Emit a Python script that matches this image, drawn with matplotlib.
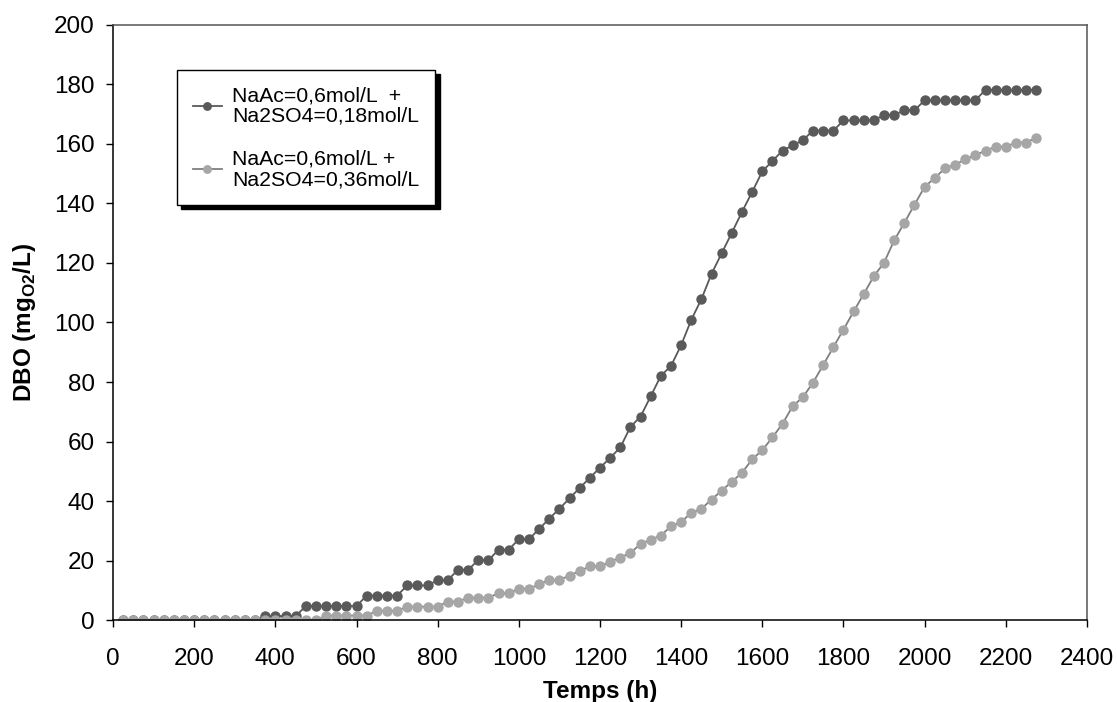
import matplotlib as mpl
import matplotlib.pyplot as plt
mpl.use('agg')

# time (h)
temps = [25, 50, 75, 100, 125, 150, 175, 200, 225, 250,
         275, 300, 325, 350, 375, 400, 425, 450, 475, 500,
         525, 550, 575, 600, 625, 650, 675, 700, 725, 750,
         775, 800, 825, 850, 875, 900, 925, 950, 975, 1000,
         1025, 1050, 1075, 1100, 1125, 1150, 1175, 1200, 1225, 1250,
         1275, 1300, 1325, 1350, 1375, 1400, 1425, 1450, 1475, 1500,
         1525, 1550, 1575, 1600, 1625, 1650, 1675, 1700, 1725, 1750,
         1775, 1800, 1825, 1850, 1875, 1900, 1925, 1950, 1975, 2000,
         2025, 2050, 2075, 2100, 2125, 2150, 2175, 2200, 2225, 2250,
         2275]

# DBO, NaAc 0,6 + Na2SO4 0,18
dbo_018 = [0, 0, 0, 0, 0, 0, 0, 0, 0, 0,
           0, 0, 0, 0, 1.3, 1.3, 1.3, 1.3, 4.7, 4.7,
           4.7, 4.7, 4.7, 4.7, 8.2, 8.2, 8.2, 8.2, 11.6, 11.6,
           11.6, 13.4, 13.4, 16.9, 16.9, 20.1, 20.1, 23.6, 23.6, 27.2,
           27.2, 30.6, 34.1, 37.4, 40.9, 44.4, 47.8, 51.2, 54.5, 58.0,
           64.9, 68.4, 75.2, 82.1, 85.4, 92.4, 100.9, 107.9, 116.4, 123.3,
           130.2, 137.2, 143.9, 150.8, 154.3, 157.8, 159.5, 161.3, 164.5, 164.5,
           164.5, 167.9, 167.9, 167.9, 167.9, 169.8, 169.8, 171.3, 171.3, 174.7,
           174.7, 174.7, 174.7, 174.7, 174.7, 178.2, 178.2, 178.2, 178.2, 178.2,
           178.2]

# DBO, NaAc 0,6 + Na2SO4 0,36
dbo_036 = [0, 0, 0, 0, 0, 0, 0, 0, 0, 0,
           0, 0, 0, 0, 0, 0, 0, 0, 0, 0,
           1.5, 1.5, 1.5, 1.5, 1.5, 3.1, 3.1, 3.1, 4.5, 4.5,
           4.5, 4.5, 6.2, 6.2, 7.5, 7.5, 7.5, 9.0, 9.0, 10.5,
           10.5, 12.0, 13.5, 13.5, 14.9, 16.5, 18.0, 18.0, 19.6, 21.0,
           22.6, 25.5, 27.0, 28.4, 31.5, 33.0, 36.0, 37.4, 40.5, 43.5,
           46.5, 49.5, 54.0, 57.1, 61.4, 66.0, 71.9, 74.9, 79.8, 85.7,
           91.7, 97.6, 103.7, 109.6, 115.6, 120.1, 127.6, 133.5, 139.6, 145.6,
           148.6, 151.8, 153.1, 154.8, 156.3, 157.7, 159.1, 159.1, 160.5, 160.5,
           162.1]

labels = ['NaAc=0,6mol/L  +\nNa2SO4=0,18mol/L',
          'NaAc=0,6mol/L +\nNa2SO4=0,36mol/L']

plt.rcParams['font.family'] = ['Liberation Sans', 'DejaVu Sans']
plt.rcParams['mathtext.fontset'] = 'custom'
plt.rcParams['mathtext.rm'] = 'Liberation Sans'
plt.rcParams['mathtext.bf'] = 'Liberation Sans:bold'

dpi = 100
fig = plt.figure(dpi=dpi, figsize=(1117 / dpi, 702 / dpi))
ax = fig.add_axes([0.1012, 0.1168, 0.8719, 0.8476])

ax.plot(temps, dbo_018, color='#595959', lw=1.3, marker='o', markersize=7.5,
        markeredgewidth=0, markerfacecolor='#5a5a5a', label=labels[0])
ax.plot(temps, dbo_036, color='#7f7f7f', lw=1.3, marker='o', markersize=7.5,
        markeredgewidth=0, markerfacecolor='#a6a6a6', label=labels[1])

ax.set_xlim(0, 2400)
ax.set_ylim(0, 200)
ax.set_xticks(range(0, 2401, 200))
ax.set_yticks(range(0, 201, 20))
ax.tick_params(direction='out', length=5, width=1, labelsize=17.5, colors='black')
ax.tick_params(axis='x', pad=15)
ax.tick_params(axis='y', pad=8)
for s in ax.spines.values():
    s.set_color('#555555')
    s.set_linewidth(1.1)
ax.spines['left'].set_color('black')
ax.spines['bottom'].set_color('black')

ax.set_xlabel('Temps (h)', fontsize=17.5, fontweight='bold', labelpad=7)
ax.set_ylabel(r'DBO (mg$_{\mathbf{O2}}$/L)', fontsize=17.5, fontweight='bold', labelpad=12)

leg = ax.legend(loc='upper left', bbox_to_anchor=(0.0657, 0.924), borderaxespad=0,
                fontsize=15.3, fancybox=False, framealpha=1, edgecolor='black',
                shadow={'color': 'black', 'alpha': 1, 'ox': 3, 'oy': -3},
                handlelength=1.35, handletextpad=0.5, borderpad=0.75,
                labelspacing=1.1, markerscale=0.85)
leg.get_frame().set_linewidth(1.0)
for t in leg.get_texts():
    t.set_linespacing(1.12)

plt.savefig('out.png')
